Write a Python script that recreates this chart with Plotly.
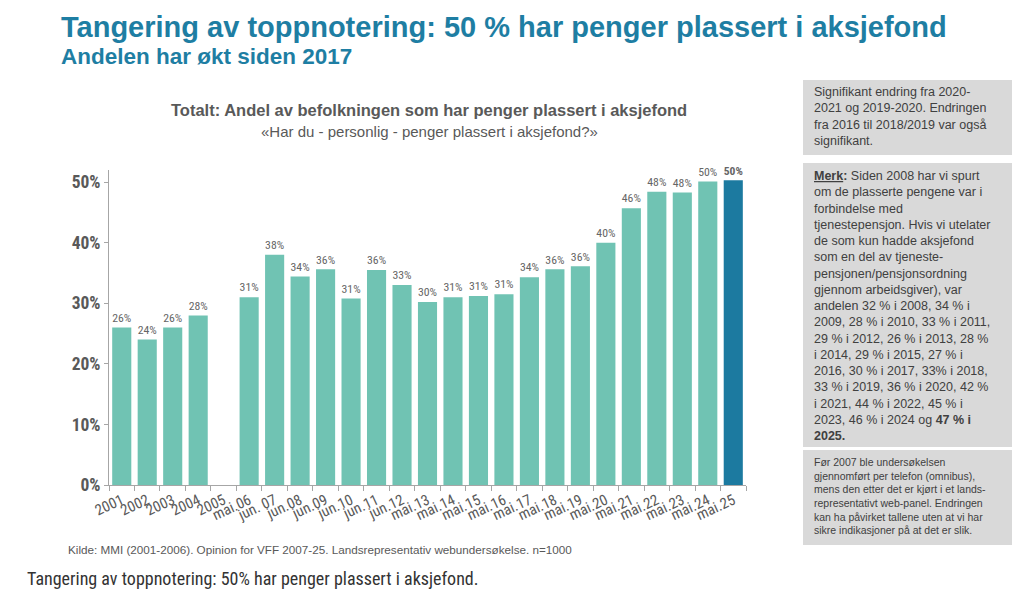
import plotly.graph_objects as go

categories = ["2001", "2002", "2003", "2004", "2005", "mai.06", "jun. 07", "jun.08", "jun.09",
              "jun.10", "jun.11", "jun.12", "mai.13", "mai.14", "mai.15", "mai.16", "mai.17",
              "mai.18", "mai.19", "mai.20", "mai.21", "mai.22", "mai.23", "mai.24", "mai.25"]
values = [26, 24, 26, 28, None, 31, 38, 34.4, 35.6, 30.8, 35.5, 33, 30.2, 31, 31.2, 31.5,
          34.3, 35.6, 36.1, 40, 45.7, 48.4, 48.3, 50.1, 50.3]
labels = ["26%", "24%", "26%", "28%", "", "31%", "38%", "34%", "36%", "31%", "36%", "33%",
          "30%", "31%", "31%", "31%", "34%", "36%", "36%", "40%", "46%", "48%", "48%", "50%",
          "<b>50%</b>"]
ytick_vals = [0, 10, 20, 30, 40, 50]
ytick_text = ["0%", "10%", "20%", "30%", "40%", "50%"]

TEAL = "#70c3b3"
BLUE = "#1c7aa0"
colors = [TEAL] * (len(categories) - 1) + [BLUE]

W, H = 1029, 589
L, R, T, B = 109, 746, 170, 485  # plot area pixels


def px(x):
    return (x - L) / (R - L)


def py(y):
    return (B - y) / (B - T)


NARROW = "Roboto Condensed, Liberation Sans Narrow, Arial Narrow, Liberation Sans, Arial"
SANS = "Liberation Sans, Arial, sans-serif"

fig = go.Figure()
fig.add_trace(go.Bar(
    x=categories, y=values, marker_color=colors, marker_line_width=0,
    text=labels, textposition="outside", cliponaxis=False,
    textfont=dict(family=NARROW, size=13, color="#666666"),
    hoverinfo="skip",
))

fig.update_layout(
    width=W, height=H,
    margin=dict(l=L, r=W - R, t=T, b=H - B),
    paper_bgcolor="white", plot_bgcolor="white",
    showlegend=False, bargap=0.25,
    xaxis=dict(
        type="category", showline=True, linecolor="#a6a6a6", linewidth=1,
        ticks="outside", tickson="boundaries", ticklen=5, tickcolor="#a6a6a6",
        tickangle=-25, tickfont=dict(family=NARROW, size=15, color="#595959"),
        showgrid=False,
    ),
    yaxis=dict(
        range=[0, 52], showline=True, linecolor="#a6a6a6", linewidth=1,
        ticks="outside", ticklen=4, tickcolor="#a6a6a6",
        tickvals=ytick_vals, ticktext=["<b>%s</b>" % t for t in ytick_text],
        tickfont=dict(family=NARROW, size=17.5, color="#595959"),
        showgrid=False, zeroline=False,
    ),
)

ann = []
# Main titles
ann.append(dict(text="<b>Tangering av toppnotering: 50 % har penger plassert i aksjefond</b>",
                x=px(59), y=py(27), xanchor="left", yanchor="middle",
                font=dict(family=SANS, size=29, color="#1e7ea3")))
ann.append(dict(text="<b>Andelen har økt siden 2017</b>",
                x=px(59), y=py(57), xanchor="left", yanchor="middle",
                font=dict(family=SANS, size=22.5, color="#1e7ea3")))
# Chart titles
ann.append(dict(text="<b>Totalt: Andel av befolkningen som har penger plassert i aksjefond</b>",
                x=px(429), y=py(110), xanchor="center", yanchor="middle",
                font=dict(family=SANS, size=16.5, color="#595959")))
ann.append(dict(text="«Har du - personlig - penger plassert i aksjefond?»",
                x=px(429), y=py(131), xanchor="center", yanchor="middle",
                font=dict(family=SANS, size=15, color="#595959")))
# Source
ann.append(dict(text="Kilde: MMI (2001-2006). Opinion for VFF 2007-25. Landsrepresentativ webundersøkelse. n=1000",
                x=px(66), y=py(549), xanchor="left", yanchor="middle",
                font=dict(family=SANS, size=11.7, color="#595959")))
# Caption
ann.append(dict(text="Tangering av toppnotering: 50% har penger plassert i aksjefond.",
                x=px(25), y=py(578), xanchor="left", yanchor="middle",
                font=dict(family="Roboto Condensed, Roboto, sans-serif", size=18, color="#333333")))

# Side boxes
shapes = []
boxes = [(80, 155), (163, 447), (450, 545)]
for (y0, y1) in boxes:
    shapes.append(dict(type="rect", xref="paper", yref="paper",
                       x0=px(803), x1=px(1012), y0=py(y1), y1=py(y0),
                       fillcolor="#d9d9d9", line=dict(width=0), layer="below"))

box1 = ("Signifikant endring fra 2020-<br>2021 og 2019-2020. Endringen<br>"
        "fra 2016 til 2018/2019 var også<br>signifikant.")
box2 = ("<b><u>Merk</u>:</b> Siden 2008 har vi spurt<br>om de plasserte pengene var i<br>"
        "forbindelse med<br>tjenestepensjon. Hvis vi utelater<br>de som kun hadde aksjefond<br>"
        "som en del av tjeneste-<br>pensjonen/pensjonsordning<br>gjennom arbeidsgiver), var<br>"
        "andelen 32 % i 2008, 34 % i<br>2009, 28 % i 2010, 33 % i 2011,<br>"
        "29 % i 2012, 26 % i 2013, 28 %<br>i 2014, 29 % i 2015, 27 % i<br>"
        "2016, 30 % i 2017, 33% i 2018,<br>33 % i 2019, 36 % i 2020, 42 %<br>"
        "i 2021, 44 % i 2022, 45 % i<br>2023, 46 % i 2024 og <b>47 % i</b><br><b>2025.</b>")
box3 = ("Før 2007 ble undersøkelsen<br>gjennomført per telefon (omnibus),<br>"
        "mens den etter det er kjørt i et lands-<br>representativt web-panel. Endringen<br>"
        "kan ha påvirket tallene uten at vi har<br>sikre indikasjoner på at det er slik.")
ann.append(dict(text=box1, x=px(812), y=py(83), xanchor="left", yanchor="top", align="left",
                font=dict(family=SANS, size=12.5, color="#404040")))
ann.append(dict(text=box2, x=px(812), y=py(167), xanchor="left", yanchor="top", align="left",
                font=dict(family=SANS, size=12.5, color="#404040")))
ann.append(dict(text=box3, x=px(812), y=py(454), xanchor="left", yanchor="top", align="left",
                font=dict(family=SANS, size=10.5, color="#404040")))

for a in ann:
    a.update(xref="paper", yref="paper", showarrow=False)
fig.update_layout(annotations=ann, shapes=shapes)

fig.write_html("out.html")
